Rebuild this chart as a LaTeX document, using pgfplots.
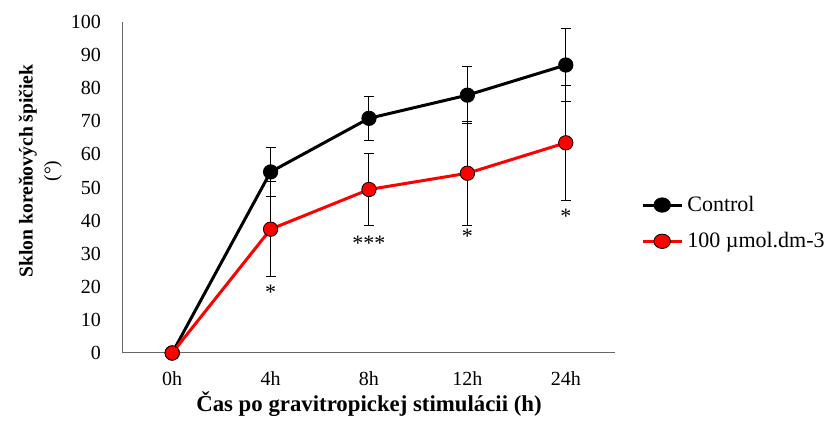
\documentclass[border=0pt]{standalone}
\usepackage{pgfplots}
\pgfplotsset{compat=1.18}
\usepackage{fontspec}
\setmainfont{Liberation Serif}

\pgfplotstableread{
x  y     e
0  0     0
1  54.7  7.3
2  70.9  6.6
3  77.9  8.7
4  87.0  10.9
}\control
\pgfplotstableread{
x  y     e
0  0     0
1  37.4  14.4
2  49.4  11.0
3  54.3  15.7
4  63.5  17.3
}\treated

\begin{document}
\begin{tikzpicture}
\begin{axis}[
    at={(0,0)}, anchor=south west,
    scale only axis,
    width=246pt, height=165.5pt,
    xmin=-0.5, xmax=4.5,
    ymin=0, ymax=100,
    xtick={0,1,2,3,4},
    xticklabels={0h,4h,8h,12h,24h},
    ytick={0,10,...,100},
    axis x line*=bottom, axis y line*=left,
    axis line style={gray!80!black, line width=0.5pt, -},
    major tick length=0pt,
    tick label style={font=\fontsize{10}{12}\selectfont},
    /pgf/number format/assume math mode=true,
    yticklabel style={xshift=-7.5pt},
    xticklabel style={yshift=-6pt},
    xlabel={\textbf{Čas po gravitropickej stimulácii (h)}},
    xlabel style={font=\fontsize{11.4}{13}\selectfont, yshift=4pt},
    ylabel={\textbf{Sklon koreňových špičiek}\\(°)},
    ylabel style={font=\fontsize{9.8}{12.5}\selectfont, align=center,
        at={(axis description cs:-0.168,0.55)}, anchor=center},
    legend style={draw=none, at={(1.04,0.5)}, anchor=north west,
        font=\fontsize{11}{13}\selectfont, row sep=5pt, fill=none},
    legend cell align=left,
    legend image post style={xscale=1.15},
    clip=false,
]
\addplot[black, line width=1.5pt, mark=*, mark size=3.6pt,
    mark options={fill=black, draw=black, line width=0.4pt},
    error bars/.cd, y dir=both, y explicit,
    error bar style={black, line width=0.5pt},
    error mark options={rotate=90, mark size=2.5pt, line width=0.5pt, black}]
    table[x=x, y=y, y error=e] {\control};
\addlegendentry{Control}
\addplot[red, line width=1.5pt, mark=*, mark size=3.6pt,
    mark options={fill=red, draw=black, line width=0.4pt},
    error bars/.cd, y dir=both, y explicit,
    error bar style={black, line width=0.5pt},
    error mark options={rotate=90, mark size=2.5pt, line width=0.5pt, black}]
    table[x=x, y=y, y error=e] {\treated};
\addlegendentry{100 µmol.dm-3}
\node[font=\fontsize{11}{12}\selectfont] at (axis cs:1,18.2) {*};
\node[font=\fontsize{11}{12}\selectfont] at (axis cs:2,33.0) {***};
\node[font=\fontsize{11}{12}\selectfont] at (axis cs:3,35.2) {*};
\node[font=\fontsize{11}{12}\selectfont] at (axis cs:4,41.2) {*};
\end{axis}
\pgfresetboundingbox
\path[use as bounding box] (-61.5pt,-34pt) rectangle (353pt,176.5pt);
\end{tikzpicture}
\end{document}
